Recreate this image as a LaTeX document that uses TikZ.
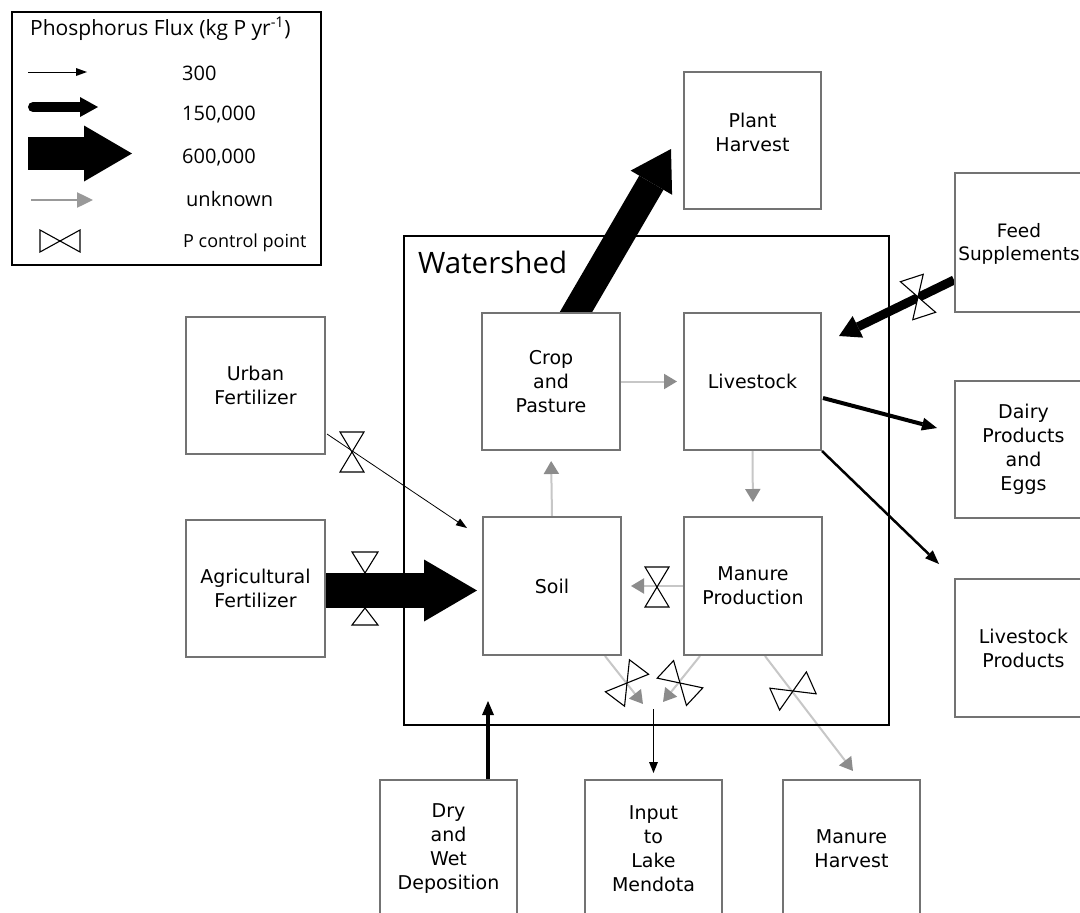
\documentclass[tikz,border=0pt]{standalone}
\usepackage{fontspec}
\setmainfont{DejaVu Sans}
\newfontfamily\legfont{Open Sans}
\usetikzlibrary{arrows.meta,calc}
\pgfdeclarelayer{bg}
\pgfdeclarelayer{paper}
\pgfsetlayers{paper,bg,main}
\begin{document}
\begin{tikzpicture}[x=1pt,y=-1pt,
  box/.style={draw=black!55, line width=2pt, fill=white, minimum width=137pt, minimum height=137pt,
    inner sep=0pt, align=center, font=\fontsize{19}{24}\selectfont},
  btext/.style={inner sep=0pt, align=center, font=\fontsize{19}{24}\selectfont},
  legtext/.style={anchor=base west, inner sep=0pt, font=\legfont\fontsize{20}{24}\selectfont},
  gflow/.style={draw=black!22, line width=2pt, -{Triangle[width=15pt,length=13pt,color=black!45]}},
  thinflow/.style={line width=0.8pt, -{Triangle[width=8pt,length=11pt,line width=0pt]}},
  bowline/.style={line width=1.1pt, fill=white, line join=miter},
  bowtie/.pic={\draw[bowline] (-12,-20) -- (12,-20) -- (-12,20) -- (12,20) -- cycle;},
  smallbow/.pic={\draw[bowline] (-11,-20) -- (11,-20) -- (-11,20) -- (11,20) -- cycle;}
]
\useasboundingbox (0,0) rectangle (1080,913);
\clip (0,0) rectangle (1080,913);
\begin{pgfonlayer}{paper}
\fill[white] (0,0) rectangle (1080,913);
\end{pgfonlayer}

% ---------------- legend ----------------
\node[draw=black, line width=2.5pt, minimum width=309pt, minimum height=253pt, inner sep=0pt] (legend) at (166.5,138.5) {};
\node[legtext, font=\legfont\fontsize{21}{24}\selectfont] (ltitle) at (30,35) {Phosphorus Flux (kg P yr\textsuperscript{-1})};
\node[legtext] (l300) at (182,80) {300};
\node[legtext] (l150) at (182,120) {150,000};
\node[legtext] (l600) at (182,163) {600,000};
\node[legtext] (lunk) at (186,206) {unknown};
\node[legtext, font=\legfont\fontsize{18}{22}\selectfont] (lctl) at (183,247) {P control point};
\coordinate (a1s) at (28,72);   \coordinate (a1e) at (87,72);
\coordinate (a2s) at (33,107);  \coordinate (a2e) at (98,107);
\coordinate (a3s) at (28,153.5);\coordinate (a3e) at (132,153.5);
\coordinate (a4s) at (31,200);  \coordinate (a4e) at (93,200);
\draw[thinflow] (a1s) -- (a1e);
\draw[line width=10pt, line cap=round, -{Triangle[width=20pt,length=18pt,line width=0pt]}] (a2s) -- (a2e);
\draw[line width=33pt, -{Triangle[width=56pt,length=48pt,line width=0pt]}] (a3s) -- (a3e);
\draw[draw=black!40, line width=2.5pt, -{Triangle[width=15pt,length=16pt,color=black!40]}] (a4s) -- (a4e);
\pic[rotate=90] at (60,241) {smallbow};

% ---------------- watershed ----------------
\node[draw=black, line width=2pt, minimum width=485pt, minimum height=489pt, inner sep=0pt] (ws) at (646.5,480.5) {};
\node[anchor=base west, inner sep=0pt, font=\legfont\fontsize{29.5}{34}\selectfont] (wslabel) at (418,273) {Watershed};

% ---------------- boxes ----------------
\node[box] (plant) at (752.5,140.5) {};
\node[btext] (planttext) at (752.5,132) {Plant\\Harvest};
\node[box, minimum width=138pt] (crop) at (551,381.5) {Crop\\and\\Pasture};
\node[box] (live) at (752.5,381.5) {Livestock};
\node[box, minimum width=138pt, minimum height=138pt] (soil) at (552,586) {Soil};
\node[box, minimum width=138pt, minimum height=138pt] (manure) at (753,586) {Manure\\Production};
\node[box, minimum height=139pt] (feed) at (1023.5,242.5) {};
\node[btext, font=\fontsize{18.5}{23}\selectfont] (feedtext) at (1019,244) {Feed\\Supplements};
\node[box] (dairy) at (1023.5,449.5) {Dairy\\Products\\and\\Eggs};
\node[box, minimum height=138pt] (lprod) at (1023.5,648) {Livestock\\Products};
\node[box, minimum width=139pt] (urban) at (255.5,385.5) {Urban\\Fertilizer};
\node[box, minimum width=139pt] (agri) at (255.5,588.5) {Agricultural\\Fertilizer};
\node[box] (dry) at (448.5,848.5) {Dry\\and\\Wet\\Deposition};
\node[box] (input) at (653.5,848.5) {Input\\to\\Lake\\Mendota};
\node[box] (mharv) at (851.5,848.5) {Manure\\Harvest};

% ---------------- flows ----------------
\begin{pgfonlayer}{bg}
\draw[line width=28pt, -{Triangle[width=48pt,length=39pt,line width=0pt]}]
  ($(crop.north)+(18,12)$) -- ($(plant.west)+(-12,8.5)$);
\draw[line width=35pt, -{Triangle[width=62pt,length=53pt,line width=0pt]}, shorten >=5pt]
  ($(agri.east)+(0,2)$) -- ($(agri.east -| soil.west)+(0,2)$);
\draw[line width=9pt, -{Triangle[width=24pt,length=21pt,line width=0pt]}]
  ($(feed.west)+(0,37.5)$) -- ($(live.north east)+(17,24)$);
\draw[line width=4pt, -{Triangle[width=13pt,length=15pt,line width=0pt]}]
  ($(live.east)+(1,16.5)$) -- ($(dairy.west)+(-17,-21.5)$);
\draw[line width=2.5pt, -{Triangle[width=11pt,length=14pt,line width=0pt]}]
  (live.south east) -- ($(lprod.north west)+(-15,-14)$);
\draw[thinflow] ($(urban.south east)+(1,-21)$) -- ($(soil.north west)+(-15,12)$);
\draw[line width=4pt, -{Triangle[width=12pt,length=14pt,line width=0pt]}]
  ($(dry.north)+(39.5,0)$) -- ($(ws.south)+(-158.5,-25)$);
\draw[line width=1.5pt, -{Triangle[width=9pt,length=11pt,line width=0pt]}, shorten >=6pt]
  ($(input.north)+(0,-70)$) -- (input.north);
\draw[gflow, shorten >=6pt] (crop.east) -- (live.west);
\draw[gflow, shorten >=14pt] (live.south) -- (manure.north);
\draw[gflow, shorten >=10pt] (soil.north) -- (crop.south);
\draw[gflow, shorten >=9pt] (manure.west) -- (soil.east);
\draw[gflow] ($(soil.south)+(53,0)$) -- ($(input.north)+(-10.5,-75)$);
\draw[gflow] ($(manure.south)+(-53,0)$) -- ($(input.north)+(9.5,-77)$);
\draw[gflow] ($(manure.south)+(12,0)$) -- ($(mharv.north)+(1.5,-8)$);
\end{pgfonlayer}

% ---------------- control points ----------------
\pic at (352,452) {bowtie};
\pic at (657,587) {bowtie};
\pic[rotate=-37] at (627,683) {bowtie};
\pic[rotate=47] at (680,683) {bowtie};
\pic[rotate=-66] at (793,691) {bowtie};
\pic[rotate=18] at (918,297) {bowtie};
\coordinate (acp) at (365,590);
\draw[bowline] ($(acp)+(-13,-38)$) -- ($(acp)+(13,-38)$) -- ($(acp)+(0,-17)$) -- cycle;
\draw[bowline] ($(acp)+(0,18)$) -- ($(acp)+(-13,35)$) -- ($(acp)+(13,35)$) -- cycle;
\end{tikzpicture}
\end{document}
